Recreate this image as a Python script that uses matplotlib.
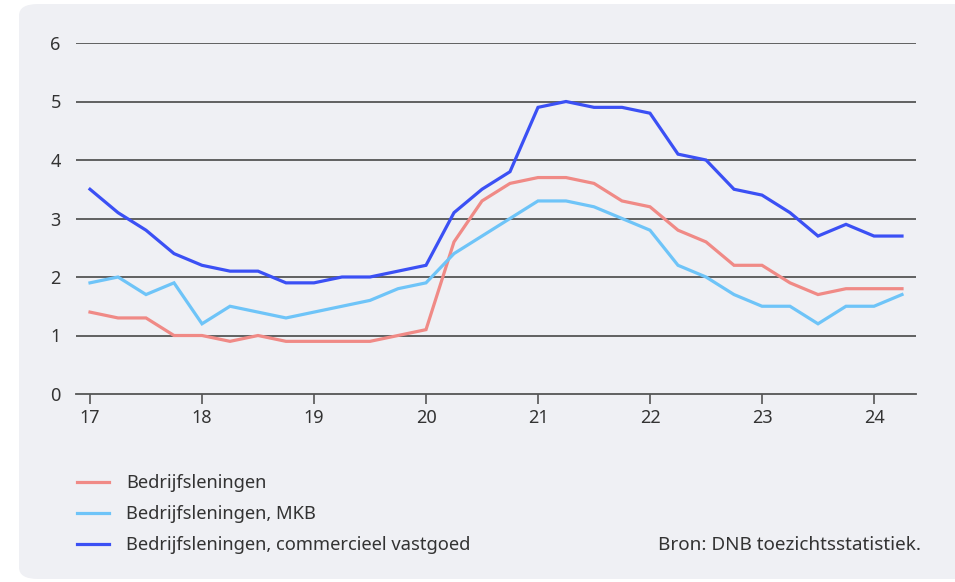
import matplotlib
matplotlib.use("Agg")
import matplotlib.pyplot as plt
from matplotlib.patches import FancyBboxPatch
import numpy as np

# quarterly data, 2017Q1 .. 2024Q2 (x axis in years, "17" = 2017)
QUARTERS = np.arange(17, 24.26, 0.25)

BEDRIJF = [1.4, 1.3, 1.3, 1.0, 1.0, 0.9, 1.0, 0.9, 0.9, 0.9, 0.9, 1.0,
           1.1, 2.6, 3.3, 3.6, 3.7, 3.7, 3.6, 3.3, 3.2, 2.8, 2.6, 2.2,
           2.2, 1.9, 1.7, 1.8, 1.8, 1.8]
MKB = [1.9, 2.0, 1.7, 1.9, 1.2, 1.5, 1.4, 1.3, 1.4, 1.5, 1.6, 1.8,
       1.9, 2.4, 2.7, 3.0, 3.3, 3.3, 3.2, 3.0, 2.8, 2.2, 2.0, 1.7,
       1.5, 1.5, 1.2, 1.5, 1.5, 1.7]
CVG = [3.5, 3.1, 2.8, 2.4, 2.2, 2.1, 2.1, 1.9, 1.9, 2.0, 2.0, 2.1,
       2.2, 3.1, 3.5, 3.8, 4.9, 5.0, 4.9, 4.9, 4.8, 4.1, 4.0, 3.5,
       3.4, 3.1, 2.7, 2.9, 2.7, 2.7]

LABELS = ["Bedrijfsleningen", "Bedrijfsleningen, MKB",
          "Bedrijfsleningen, commercieel vastgoed"]
X_TICKS = [17, 18, 19, 20, 21, 22, 23, 24]
Y_TICKS = [0, 1, 2, 3, 4, 5, 6]

RED, LIGHT, BLUE = "#f08a86", "#6ec4f8", "#3b50f4"
PANEL, INK, GRID = "#eff0f4", "#333333", "#555555"

plt.rcParams["font.family"] = ["Noto Sans", "DejaVu Sans"]

fig = plt.figure(figsize=(9.55, 5.82), dpi=100, facecolor="white")

# rounded grey panel behind everything
panel = FancyBboxPatch((19 / 955, 3 / 582), 960 / 955, 575 / 582,
                       boxstyle="round,pad=0,rounding_size=0.02",
                       transform=fig.transFigure, facecolor=PANEL,
                       edgecolor="none", zorder=-10)
fig.patches.append(panel)

ax = fig.add_axes([76 / 955, 1 - 394 / 582, 840 / 955, 351 / 582])
ax.set_facecolor("none")

for y in Y_TICKS[1:]:
    ax.axhline(y, color=GRID, linewidth=1.3, zorder=1)

lines = []
for vals, col, lab in zip([BEDRIJF, MKB, CVG], [RED, LIGHT, BLUE], LABELS):
    ln, = ax.plot(QUARTERS, vals, color=col, linewidth=2.3, label=lab,
                  solid_joinstyle="miter", zorder=3)
    lines.append(ln)

ax.set_xlim(16.875, 24.375)
ax.set_ylim(0, 6)
ax.set_xticks(X_TICKS)
ax.set_xticklabels([str(t) for t in X_TICKS])
ax.set_yticks(Y_TICKS)
for s in ["top", "right", "left"]:
    ax.spines[s].set_visible(False)
ax.spines["bottom"].set_color(GRID)
ax.spines["bottom"].set_linewidth(1.3)
ax.tick_params(axis="x", length=7, width=1.2, color=GRID, labelsize=13,
               labelcolor=INK, pad=4)
ax.tick_params(axis="y", length=0, labelsize=13, labelcolor=INK, pad=11)

fig.legend(handles=lines, loc="upper left",
           bbox_to_anchor=(77 / 955, 1 - 474 / 582), frameon=False,
           fontsize=13.2, handlelength=1.75, handletextpad=0.95,
           labelspacing=0.72, borderpad=0, borderaxespad=0,
           labelcolor=INK)

fig.text(921 / 955, 1 - 545 / 582, "Bron: DNB toezichtsstatistiek.",
         ha="right", va="center", fontsize=13.6, color=INK)

fig.savefig("out.png", dpi=100, facecolor="white")
